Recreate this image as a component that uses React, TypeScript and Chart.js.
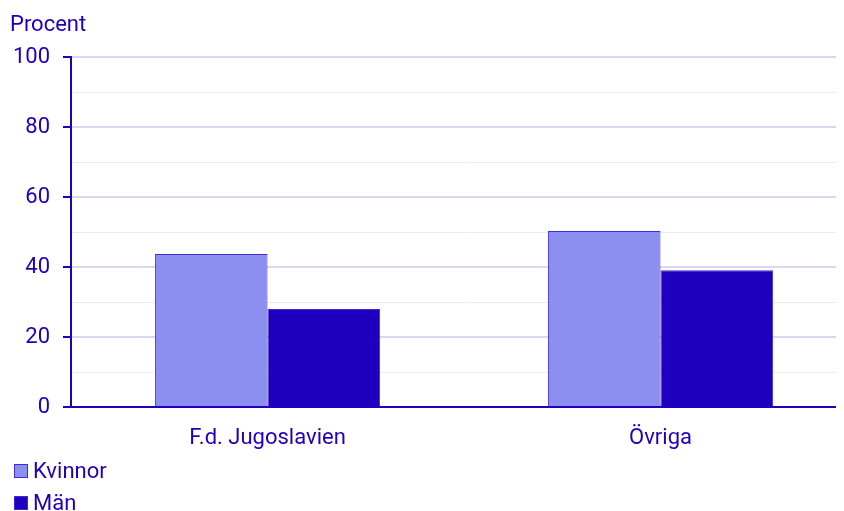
import React, { useEffect, useRef } from "react";
import { Chart, registerables } from "chart.js";

Chart.register(...registerables);

const categories = ["F.d. Jugoslavien", "Övriga"];
const kvinnor = [43.7, 50.3];
const man = [28.0, 39.1];
const seriesNames = ["Kvinnor", "Män"];
const yTitle = "Procent";

const BLUE = "#1e00be";
const LIGHT = "#8c8ff0";
const BORDER = "#3f2dd4";

export default function App() {
  const ref = useRef<HTMLCanvasElement>(null);
  useEffect(() => {
    if (!ref.current) return;
    Chart.defaults.font.family = "Roboto";
    const chart = new Chart(ref.current, {
      type: "bar",
      data: {
        labels: categories,
        datasets: [
          { label: seriesNames[0], data: kvinnor, backgroundColor: LIGHT, borderColor: BORDER, borderWidth: 1 },
          { label: seriesNames[1], data: man, backgroundColor: BLUE, borderColor: BORDER, borderWidth: 1 },
        ],
      },
      options: {
        animation: false,
        responsive: false,
        layout: { padding: { left: 2, right: 0, top: 0, bottom: 0 } },
        datasets: { bar: { categoryPercentage: 0.573, barPercentage: 1 } },
        plugins: {
          legend: { display: false },
          tooltip: { enabled: false },
          title: {
            display: true,
            text: yTitle,
            align: "start",
            color: BLUE,
            font: { size: 22, weight: "normal", family: "Roboto" },
            padding: { top: 4, bottom: 18.6 },
          },
        },
        scales: {
          x: {
            offset: true,
            grid: { display: false, drawTicks: false },
            border: { color: BLUE, width: 2 },
            ticks: { color: BLUE, font: { size: 22 }, padding: 18 },
            afterFit: (s: any) => { s.height = 104; },
          },
          y: {
            min: 0,
            max: 100,
            ticks: {
              stepSize: 10,
              color: BLUE,
              font: { size: 22 },
              padding: 13,
              callback: (v: any) => (Number(v) % 20 === 0 ? String(v) : ""),
            },
            grid: {
              color: (c: any) => (c.tick && c.tick.value % 20 === 0 ? "#d8d8f2" : "#ececec"),
              lineWidth: (c: any) => (c.tick && c.tick.value % 20 === 0 ? 2 : 1),
              tickColor: (c: any) => (c.tick && c.tick.value % 20 === 0 ? BLUE : "rgba(0,0,0,0)"),
              tickLength: 8,
              tickWidth: 2,
            },
            border: { color: BLUE, width: 2 },
            afterFit: (s: any) => { s.width = 61; },
          },
        },
      },
    });
    return () => chart.destroy();
  }, []);

  const legendItem = (name: string, fill: string, top: number) => (
    <div style={{ position: "absolute", left: 6, top, height: 26, display: "flex", alignItems: "center" }}>
      <span style={{ width: 12, height: 12, background: fill, border: `1px solid ${BORDER}`, display: "inline-block" }} />
      <span style={{ marginLeft: 5, color: BLUE, fontSize: 22, fontFamily: "Roboto", lineHeight: "26px" }}>{name}</span>
    </div>
  );

  return (
    <div style={{ position: "relative", width: 836, height: 503, overflow: "hidden" }}>
      <canvas ref={ref} width={849} height={503} style={{ display: "block" }} />
      {legendItem(seriesNames[0], LIGHT, 450)}
      {legendItem(seriesNames[1], BLUE, 482)}
    </div>
  );
}
